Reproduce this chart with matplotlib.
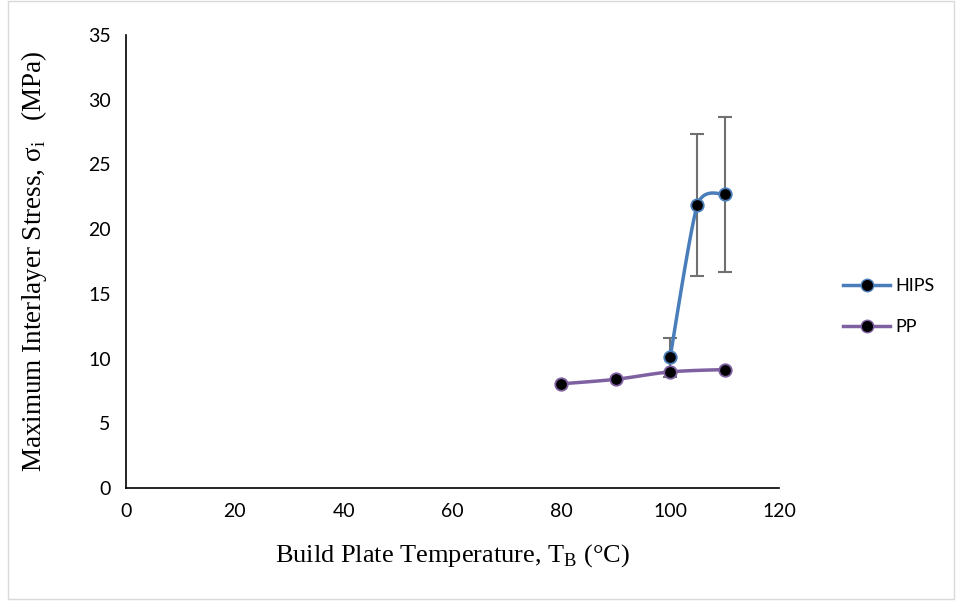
import matplotlib
matplotlib.use("Agg")
import matplotlib.pyplot as plt
import numpy as np
from matplotlib.patches import Rectangle

# Data
hips_temp = [100, 105, 110]
hips_stress = [10.1, 21.85, 22.7]
hips_err = [1.5, 5.5, 6.0]

pp_temp = [80, 90, 100, 110]
pp_stress = [8.05, 8.4, 8.97, 9.15]

x_ticks = [0, 20, 40, 60, 80, 100, 120]
y_ticks = [0, 5, 10, 15, 20, 25, 30, 35]

HIPS_COLOR = '#4a7ebb'
PP_COLOR = '#7f60a0'


def smooth(xs, ys, n=40, k=0.5):
    # cardinal spline through the points, roughly like Excel's smoothed line
    xs = np.asarray(xs, float)
    ys = np.asarray(ys, float)
    px = np.concatenate([[xs[0]], xs, [xs[-1]]])
    py = np.concatenate([[ys[0]], ys, [ys[-1]]])
    out_x, out_y = [], []
    t = np.linspace(0, 1, n)
    h00 = 2 * t**3 - 3 * t**2 + 1
    h10 = t**3 - 2 * t**2 + t
    h01 = -2 * t**3 + 3 * t**2
    h11 = t**3 - t**2
    for i in range(1, len(px) - 2):
        p0, p1, p2, p3 = (np.array([px[j], py[j]]) for j in range(i - 1, i + 3))
        m1 = (p2 - p0) * k
        m2 = (p3 - p1) * k
        pts = (np.outer(h00, p1) + np.outer(h10, m1) +
               np.outer(h01, p2) + np.outer(h11, m2))
        out_x.extend(pts[:, 0])
        out_y.extend(pts[:, 1])
    return out_x, out_y


fig = plt.figure(figsize=(9.56, 6.01), dpi=100)
ax = fig.add_axes([0.1318, 0.188, 0.683, 0.7538])

# thin frame around the picture
fig.patches.append(Rectangle((0.008, 0.004), 0.99, 0.994, transform=fig.transFigure,
                             fill=False, edgecolor='#d9d9d9', linewidth=1))

# error bars (grey, with caps)
ax.errorbar(hips_temp, hips_stress, yerr=hips_err, fmt='none', ecolor='#707070',
            elinewidth=1.5, capsize=5, capthick=1.5, zorder=2)

sx, sy = smooth(pp_temp, pp_stress)
ax.plot(sx, sy, color=PP_COLOR, linewidth=2.5, zorder=3)
ax.plot(pp_temp, pp_stress, linestyle='none', marker='o', markersize=9,
        markerfacecolor='black', markeredgecolor=PP_COLOR, markeredgewidth=1.3, zorder=4)

sx, sy = smooth(hips_temp, hips_stress, k=0.35)
ax.plot(sx, sy, color=HIPS_COLOR, linewidth=2.5, zorder=3)
ax.plot(hips_temp, hips_stress, linestyle='none', marker='o', markersize=9,
        markerfacecolor='black', markeredgecolor=HIPS_COLOR, markeredgewidth=1.3, zorder=4)

# legend proxies
h1, = ax.plot([], [], color=HIPS_COLOR, linewidth=2.5, marker='o', markersize=9,
              markerfacecolor='black', markeredgecolor=HIPS_COLOR, label='HIPS')
h2, = ax.plot([], [], color=PP_COLOR, linewidth=2.5, marker='o', markersize=9,
              markerfacecolor='black', markeredgecolor=PP_COLOR, label='PP')
fig.legend(handles=[h1, h2], loc='center left', bbox_to_anchor=(0.865, 0.49),
           frameon=False, prop={'family': 'Lato', 'size': 13},
           handlelength=2.6, labelspacing=1.4, handletextpad=0.3)

ax.set_xlim(0, 120)
ax.set_ylim(0, 35)
ax.set_xticks(x_ticks)
ax.set_yticks(y_ticks)
ax.tick_params(length=0, labelsize=14, pad=11)
for lab in ax.get_xticklabels() + ax.get_yticklabels():
    lab.set_family('Lato')
ax.spines['top'].set_visible(False)
ax.spines['right'].set_visible(False)
ax.spines['left'].set_linewidth(1.2)
ax.spines['bottom'].set_linewidth(1.2)

ax.set_xlabel('Build Plate Temperature, T$_\\mathregular{B}$ (°C)', family='Liberation Serif',
              fontsize=19, labelpad=16)
ax.set_ylabel('Maximum Interlayer Stress, σ$_\\mathregular{i}$   (MPa)', family='Liberation Serif',
              fontsize=19.5, labelpad=28)

fig.savefig('out.png', dpi=100)
